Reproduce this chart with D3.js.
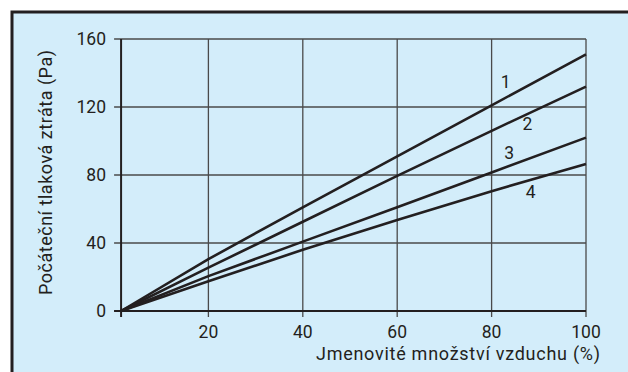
<!DOCTYPE html>
<html><head><meta charset="utf-8">
<script src="https://cdn.jsdelivr.net/npm/d3@7"></script>
<style>body{margin:0;background:#fff}svg{display:block}</style>
</head><body>
<script>
const xValues = [1.5, 20, 40, 60, 80, 100];
const series1 = [0, 30.5, 61, 91, 121, 151];
const series2 = [0, 25.5, 52.5, 79.5, 106, 132];
const series3 = [0, 20.5, 40.8, 61, 81.5, 102];
const series4 = [0, 17.5, 36, 53.5, 70.5, 86.5];
const seriesNames = ["1", "2", "3", "4"];
const xTicks = [20, 40, 60, 80, 100];
const yTicks = [0, 40, 80, 120, 160];
const xTitle = "Jmenovité množství vzduchu (%)";
const yTitle = "Počáteční tlaková ztráta (Pa)";

const W = 628, H = 372;
const ink = "#231f20";
const font = "Roboto, 'Open Sans', sans-serif";
const svg = d3.select("body").append("svg").attr("width", W).attr("height", H);

// frame
svg.append("rect").attr("x", 12).attr("y", 12).attr("width", W).attr("height", H)
  .attr("fill", "#d3edfa").attr("stroke", ink).attr("stroke-width", 3);

const x = d3.scaleLinear().domain([0, 100]).range([114, 586]);
const y = d3.scaleLinear().domain([0, 160]).range([311, 39]);
const x0 = x(xValues[0]);

// grid
const g = svg.append("g");
g.selectAll(".vg").data(xTicks).join("line")
  .attr("x1", d => x(d)).attr("x2", d => x(d)).attr("y1", y(160)).attr("y2", y(0) + 6)
  .attr("stroke", "#4a4a4a").attr("stroke-width", 1.3);
g.selectAll(".hg").data(yTicks).join("line")
  .attr("x1", x0 - 7).attr("x2", x(100)).attr("y1", d => y(d)).attr("y2", d => y(d))
  .attr("stroke", "#4a4a4a").attr("stroke-width", 1.3);
// axes
g.append("line").attr("x1", x0).attr("x2", x0).attr("y1", y(160)).attr("y2", y(0) + 6)
  .attr("stroke", ink).attr("stroke-width", 2);
g.append("line").attr("x1", x0 - 7).attr("x2", x(100)).attr("y1", y(0)).attr("y2", y(0))
  .attr("stroke", ink).attr("stroke-width", 2.2);

// tick labels
g.selectAll(".xl").data(xTicks).join("text")
  .attr("x", d => x(d)).attr("y", 338).attr("text-anchor", "middle")
  .attr("font-family", font).attr("font-size", 17.5).attr("fill", ink).text(d => d);
g.selectAll(".yl").data(yTicks).join("text")
  .attr("x", 106).attr("y", d => y(d) + 6).attr("text-anchor", "end")
  .attr("font-family", font).attr("font-size", 17.5).attr("fill", ink).text(d => d);

// titles
svg.append("text").attr("x", 316).attr("y", 360).attr("text-anchor", "start")
  .attr("textLength", 284).attr("lengthAdjust", "spacing")
  .attr("font-family", font).attr("font-size", 18).attr("fill", ink).text(xTitle);
svg.append("text").attr("transform", "translate(52,295) rotate(-90)").attr("text-anchor", "start")
  .attr("textLength", 245).attr("lengthAdjust", "spacing")
  .attr("font-family", font).attr("font-size", 18).attr("fill", ink).text(yTitle);

// lines
const all = [series1, series2, series3, series4];
const line = d3.line().x((d, i) => x(xValues[i])).y(d => y(d));
svg.selectAll(".ln").data(all).join("path")
  .attr("d", d => line(d)).attr("fill", "none").attr("stroke", ink).attr("stroke-width", 2.6);

// labels
const labelPos = [[83.0, 131.2], [87.6, 106.2], [83.7, 89.4], [88.3, 66.5]];
svg.selectAll(".lab").data(seriesNames).join("text")
  .attr("x", (d, i) => x(labelPos[i][0])).attr("y", (d, i) => y(labelPos[i][1]))
  .attr("text-anchor", "middle").attr("font-family", font).attr("font-size", 17.5).attr("fill", ink)
  .text(d => d);
</script>
</body></html>
